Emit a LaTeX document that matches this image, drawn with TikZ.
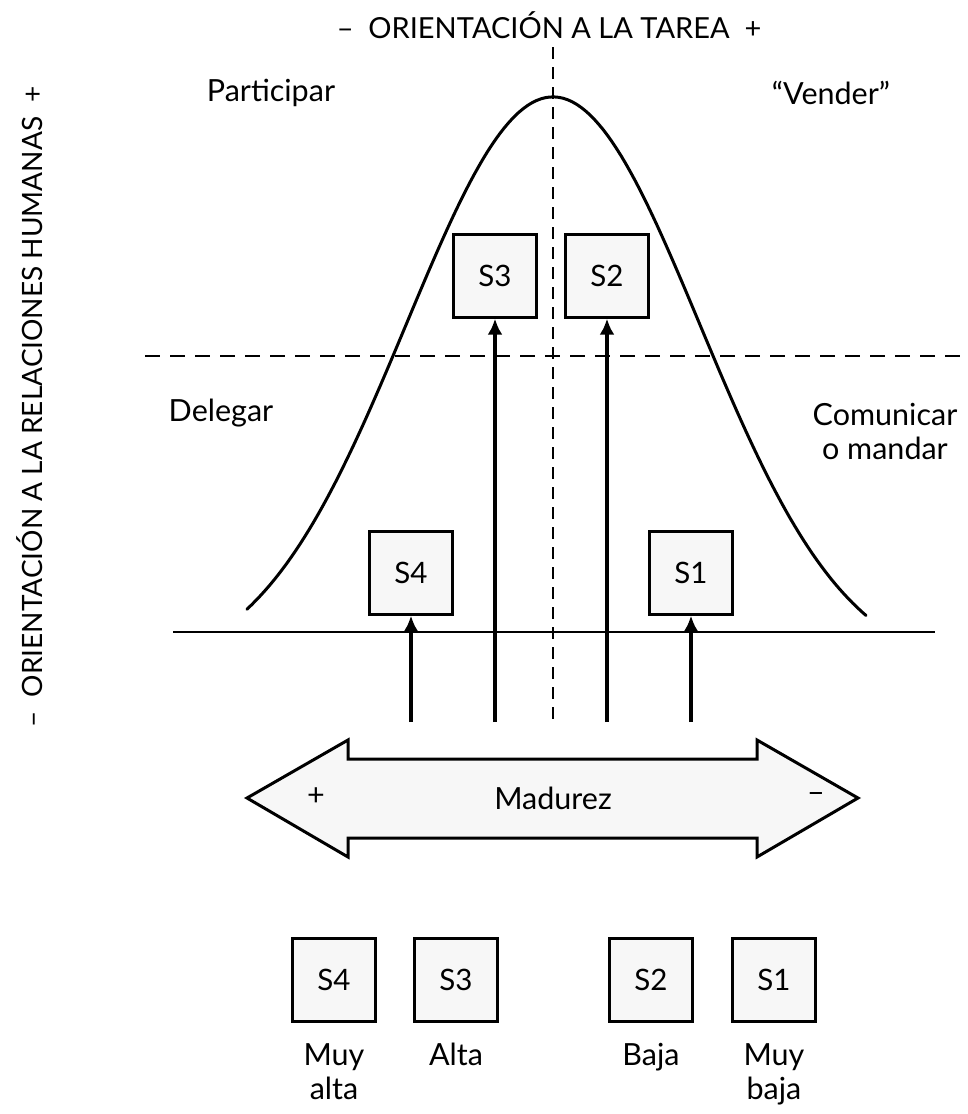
\documentclass[tikz,border=0pt]{standalone}
\usepackage{fontspec}
\setmainfont{Lato}
\usepackage{tikz}
\usetikzlibrary{arrows.meta,positioning}

\begin{document}
\begin{tikzpicture}[x=1pt,y=-1pt,
    sbox/.style={draw,line width=2.4pt,fill=gray!6,minimum size=83pt,inner sep=0pt,font=\fontsize{29.5}{33}\selectfont},
    lbl/.style={font=\fontsize{30.5}{34}\selectfont,align=center},
    head/.style={font=\fontsize{29}{33}\selectfont},
    uparrow/.style={line width=3.2pt,-{Latex[length=16pt,width=15pt]}}]
    \useasboundingbox (0,0) rectangle (968,1114);

    % axes
    \node[head] (tarea) at (549,25) {–\ \ ORIENTACIÓN A LA TAREA\ \ +};
    \node[head,font=\fontsize{28}{33}\selectfont,rotate=90] (relac) at (30,407) {–\ \ ORIENTACIÓN A LA RELACIONES HUMANAS\ \ +};

    \coordinate (vtop) at (553,47);
    \coordinate (vbot) at (553,722);
    \draw[line width=1.8pt,dash pattern=on 12pt off 8pt] (vtop) -- (vbot);
    \draw[line width=1.8pt,dash pattern=on 15pt off 10pt] (145,356) -- (968,356);
    \draw[line width=1.8pt] (173,632) -- (935,632);

    % the curve
    \draw[line width=3pt,line cap=round] plot[domain=-306:313,samples=140]
      ({553+\x},{675-578*exp(-0.5*(\x/146.8)^2)});

    % styles
    \node[lbl] (part) at (271,93) {Participar};
    \node[lbl] (vend) at (831,93) {“Vender”};
    \node[lbl] (deleg) at (221,413) {Delegar};
    \node[lbl] (comun) at (885,431) {Comunicar\\o mandar};

    \node[sbox] (s3) at (495,276) {S3};
    \node[sbox] (s2) at (607,276) {S2};
    \node[sbox] (s4) at (411,573) {S4};
    \node[sbox] (s1) at (691,573) {S1};

    \coordinate (f4) at (411,722);
    \coordinate (f3) at (495,722);
    \coordinate (f2) at (607,722);
    \coordinate (f1) at (691,722);
    \draw[uparrow] (f4) -- (s4.south);
    \draw[uparrow] (f3) -- (s3.south);
    \draw[uparrow] (f2) -- (s2.south);
    \draw[uparrow] (f1) -- (s1.south);

    % maturity arrow
    \draw[line width=3pt,fill=gray!6,line join=miter]
      (247,798) -- (348,740) -- (348,759) -- (757,759) -- (757,740) -- (858,798)
      -- (757,857) -- (757,838) -- (348,838) -- (348,857) -- cycle;
    \node[lbl] (madur) at (553,798) {Madurez};
    \node[lbl] (plus) at (316,797) {+};
    \node[lbl] (minus) at (816,797) {–};

    % scale below
    \node[sbox] (b4) at (334,980) {S4};
    \node[sbox] (b3) at (456,980) {S3};
    \node[sbox] (b2) at (651,980) {S2};
    \node[sbox] (b1) at (774,980) {S1};
    \node[lbl,below=17pt of b4] (l4) {Muy\\alta};
    \node[lbl,below=17pt of b3] (l3) {Alta};
    \node[lbl,below=17pt of b2] (l2) {Baja};
    \node[lbl,below=17pt of b1] (l1) {Muy\\baja};
\end{tikzpicture}
\end{document}
